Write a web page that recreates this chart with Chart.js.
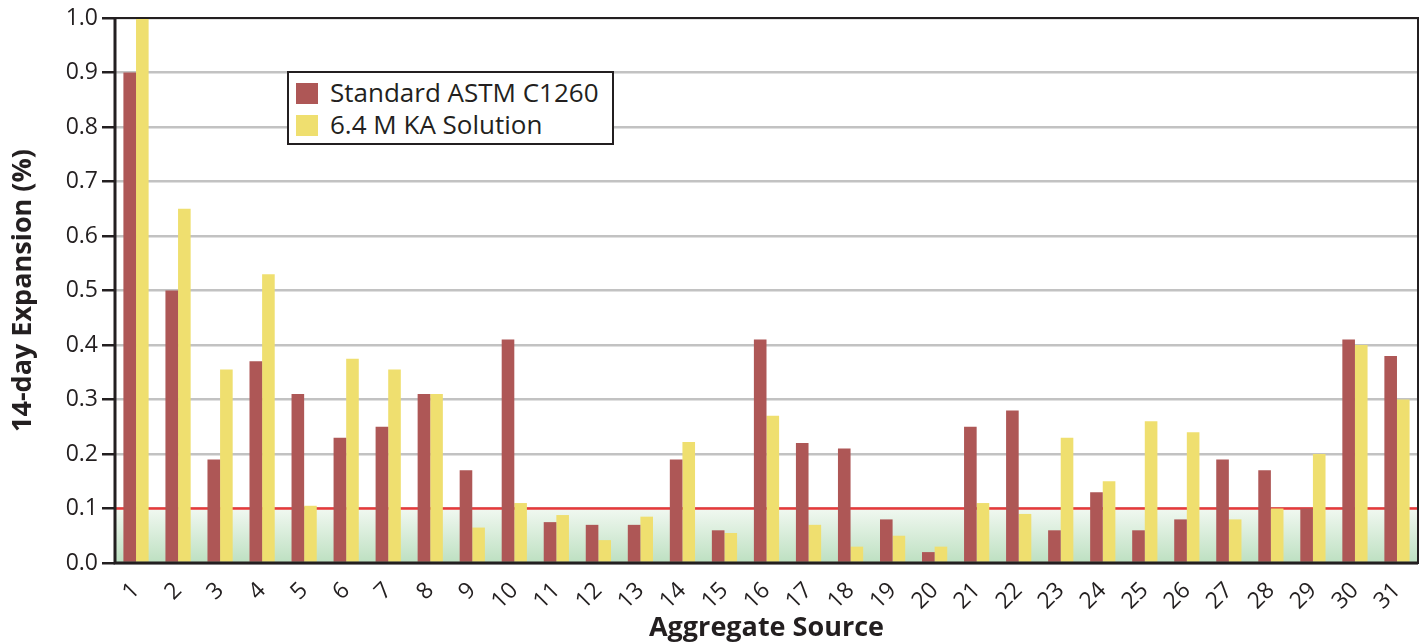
<!DOCTYPE html>
<html>
<head>
<meta charset="utf-8">
<script src="https://cdn.jsdelivr.net/npm/chart.js@4/dist/chart.umd.min.js"></script>
<style>
  body { margin: 0; background: #fff; }
  #wrap { position: relative; width: 1423px; height: 642px; }
  #legend {
    position: absolute; left: 287px; top: 71px; width: 327px; height: 74px; box-sizing: border-box;
    border: 2px solid #231f20; background: #fff;
    font-family: "Open Sans", sans-serif; font-size: 26px; color: #231f20;
  }
  #legend .row { position: absolute; left: 7px; height: 30px; line-height: 30px; white-space: nowrap; }
  #legend .sw { display: inline-block; width: 22px; height: 21px; vertical-align: middle; margin-right: 12px; position: relative; top: -2px; }
</style>
</head>
<body>
<div id="wrap">
  <canvas id="chart" width="1423" height="642"></canvas>
  <div id="legend"></div>
</div>
<script>
const sources = ["1","2","3","4","5","6","7","8","9","10","11","12","13","14","15","16","17","18","19","20","21","22","23","24","25","26","27","28","29","30","31"];
const standardC1260 = [0.90,0.50,0.19,0.37,0.31,0.23,0.25,0.31,0.17,0.41,0.075,0.07,0.07,0.19,0.06,0.41,0.22,0.21,0.08,0.02,0.25,0.28,0.06,0.13,0.06,0.08,0.19,0.17,0.10,0.41,0.38];
const kaSolution = [1.00,0.65,0.355,0.53,0.105,0.375,0.355,0.31,0.065,0.11,0.088,0.042,0.085,0.222,0.055,0.27,0.07,0.03,0.05,0.03,0.11,0.09,0.23,0.15,0.26,0.24,0.08,0.10,0.20,0.40,0.30];
const yTicks = [0.0,0.1,0.2,0.3,0.4,0.5,0.6,0.7,0.8,0.9,1.0];
const limit = 0.1;

const RED = "#ae5756";
const YELLOW = "#efdf6f";
const INK = "#231f20";

// green band below the 0.1 limit, red limit line, and the plot frame
const limitBand = {
  id: "limitBand",
  beforeDatasetsDraw(chart) {
    const { ctx, chartArea, scales } = chart;
    const yTop = scales.y.getPixelForValue(limit);
    const yBot = scales.y.getPixelForValue(0);
    const g = ctx.createLinearGradient(0, yTop, 0, yBot);
    g.addColorStop(0, "#f1f8f1");
    g.addColorStop(1, "#bde0c1");
    ctx.save();
    ctx.fillStyle = g;
    ctx.fillRect(chartArea.left, yTop, chartArea.right - chartArea.left, yBot - yTop);
    ctx.strokeStyle = "#e8393a";
    ctx.lineWidth = 2.5;
    ctx.beginPath();
    ctx.moveTo(chartArea.left, yTop);
    ctx.lineTo(chartArea.right, yTop);
    ctx.stroke();
    ctx.restore();
  },
  afterDatasetsDraw(chart) {
    const { ctx, chartArea } = chart;
    ctx.save();
    ctx.strokeStyle = INK;
    ctx.lineWidth = 2;
    ctx.strokeRect(chartArea.left, chartArea.top, chartArea.right - chartArea.left, chartArea.bottom - chartArea.top);
    ctx.lineWidth = 3;
    ctx.beginPath();
    ctx.moveTo(chartArea.left, chartArea.top);
    ctx.lineTo(chartArea.left, chartArea.bottom);
    ctx.lineTo(chartArea.right, chartArea.bottom);
    ctx.stroke();
    ctx.restore();
  }
};

const chart = new Chart(document.getElementById("chart"), {
  type: "bar",
  data: {
    labels: sources,
    datasets: [
      { label: "Standard ASTM C1260", data: standardC1260, backgroundColor: RED },
      { label: "6.4 M KA Solution", data: kaSolution, backgroundColor: YELLOW }
    ]
  },
  options: {
    responsive: false,
    animation: false,
    layout: { padding: { top: 18, right: 5, left: 0, bottom: 0 } },
    datasets: { bar: { categoryPercentage: 0.6, barPercentage: 1.0 } },
    plugins: { legend: { display: false }, tooltip: { enabled: false } },
    scales: {
      x: {
        grid: { display: false },
        border: { display: false },
        ticks: {
          color: INK, minRotation: 45, maxRotation: 45, padding: 6,
          font: { family: "Open Sans", size: 23 }
        },
        title: {
          display: true, text: "Aggregate Source", color: INK,
          font: { family: "Open Sans", size: 27, weight: "bold", lineHeight: 1 }, padding: { top: 0, bottom: 0 }
        },
        afterFit(scale) { scale.height = 79; }
      },
      y: {
        min: 0, max: 1.0,
        afterBuildTicks(scale) { scale.ticks = yTicks.map(v => ({ value: v })); },
        grid: { color: "#c2c2c2", lineWidth: 2.5, tickColor: INK, tickLength: 13, tickWidth: 2.5 },
        border: { display: false },
        ticks: {
          color: INK, padding: 4,
          font: { family: "Open Sans", size: 23 },
          callback: v => Number(v).toFixed(1)
        },
        title: {
          display: true, text: "14-day Expansion (%)", color: INK,
          font: { family: "Open Sans", size: 27, weight: "bold", lineHeight: 1 }, padding: { top: 10, bottom: 4 }
        },
        afterFit(scale) { scale.width = 115; }
      }
    }
  },
  plugins: [limitBand]
});

const legend = document.getElementById("legend");
chart.data.datasets.forEach((ds, i) => {
  const row = document.createElement("div");
  row.className = "row";
  row.style.top = (4 + i * 32) + "px";
  row.innerHTML = `<span class="sw" style="background:${ds.backgroundColor}"></span>${ds.label}`;
  legend.appendChild(row);
});
</script>
</body>
</html>
